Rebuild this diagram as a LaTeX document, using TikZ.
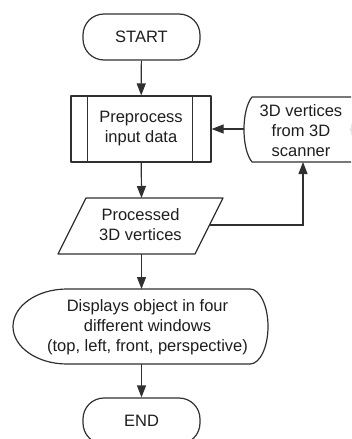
\documentclass[tikz,border=0pt]{standalone}
\usepackage{fontspec}
\setmainfont{Liberation Sans}
\usetikzlibrary{arrows.meta}
\definecolor{ln}{HTML}{303030}
\definecolor{tx}{HTML}{1E1E1E}
\begin{document}
\begin{tikzpicture}[x=1pt,y=-1pt,
 shapeline/.style={draw=ln, line width=1.2pt, line join=round},
 lbl/.style={text=tx, align=center, font=\fontsize{16.5}{20}\selectfont, inner sep=0pt},
 term/.style={shapeline, rectangle, rounded corners=21pt, minimum width=117pt, minimum height=46pt},
 flow/.style={draw=ln, line width=1.2pt, -{Triangle[length=12pt,width=9pt]}},
 link/.style={draw=ln, line width=1.2pt}]
\useasboundingbox (0,0) rectangle (351,439);
\clip (0,0) rectangle (351,439);

% START
\node[term, lbl] (start) at (141.5,37) {START};

% Preprocess (predefined process)
\node[shapeline, rectangle, minimum width=140pt, minimum height=66pt, lbl] (pre) at (141,129) {Preprocess\\input data};
\draw[shapeline] ([xshift=17pt]pre.north west) -- ([xshift=17pt]pre.south west);
\draw[shapeline] ([xshift=-19pt]pre.north east) -- ([xshift=-19pt]pre.south east);

% Processed 3D vertices (data)
\coordinate (pbl) at (58,254);
\coordinate (ptl) at (86,198);
\coordinate (ptr) at (223,198);
\coordinate (pbr) at (195,254);
\draw[shapeline] (pbl) -- (ptl) -- (ptr) -- (pbr) -- cycle;
\node[lbl] (proc) at (140.5,225) {Processed\\3D vertices};
\coordinate (procN) at (141.5,198);
\coordinate (procS) at (141.5,254);
\coordinate (procE) at (209.5,225);

% Stored data: 3D vertices from 3D scanner
\draw[shapeline] (252,97) -- (368,97) .. controls (346,110) and (346,149) .. (368,162) -- (252,162) .. controls (241.3,149) and (241.3,110) .. (252,97) -- cycle;
\node[lbl] (src) at (301,131) {3D vertices\\from 3D\\scanner};
\coordinate (srcW) at (244,129);
\coordinate (srcS) at (303,162);

% Display
\draw[shapeline] (67,289) -- (250,289) .. controls (259.9,289) and (268,305.8) .. (268,326.5) .. controls (268,347.2) and (259.9,364) .. (250,364) -- (67,364) .. controls (37.2,364) and (13,347.2) .. (13,326.5) .. controls (13,305.8) and (37.2,289) .. (67,289) -- cycle;
\node[lbl] (disp) at (147.5,327) {Displays object in four\\different windows\\(top, left, front, perspective)};
\coordinate (dispN) at (141.5,289);
\coordinate (dispS) at (141.5,364);

% END
\node[term, lbl] (end) at (141.5,421) {END};

% Connectors
\draw[flow] (start) -- (pre);
\draw[flow] (pre) -- (procN);
\draw[flow] (srcW) -- (pre);
\draw[flow] (procE) -| (srcS);
\draw[flow] (procS) -- (dispN);
\draw[flow] (dispS) -- (end);
\end{tikzpicture}
\end{document}
